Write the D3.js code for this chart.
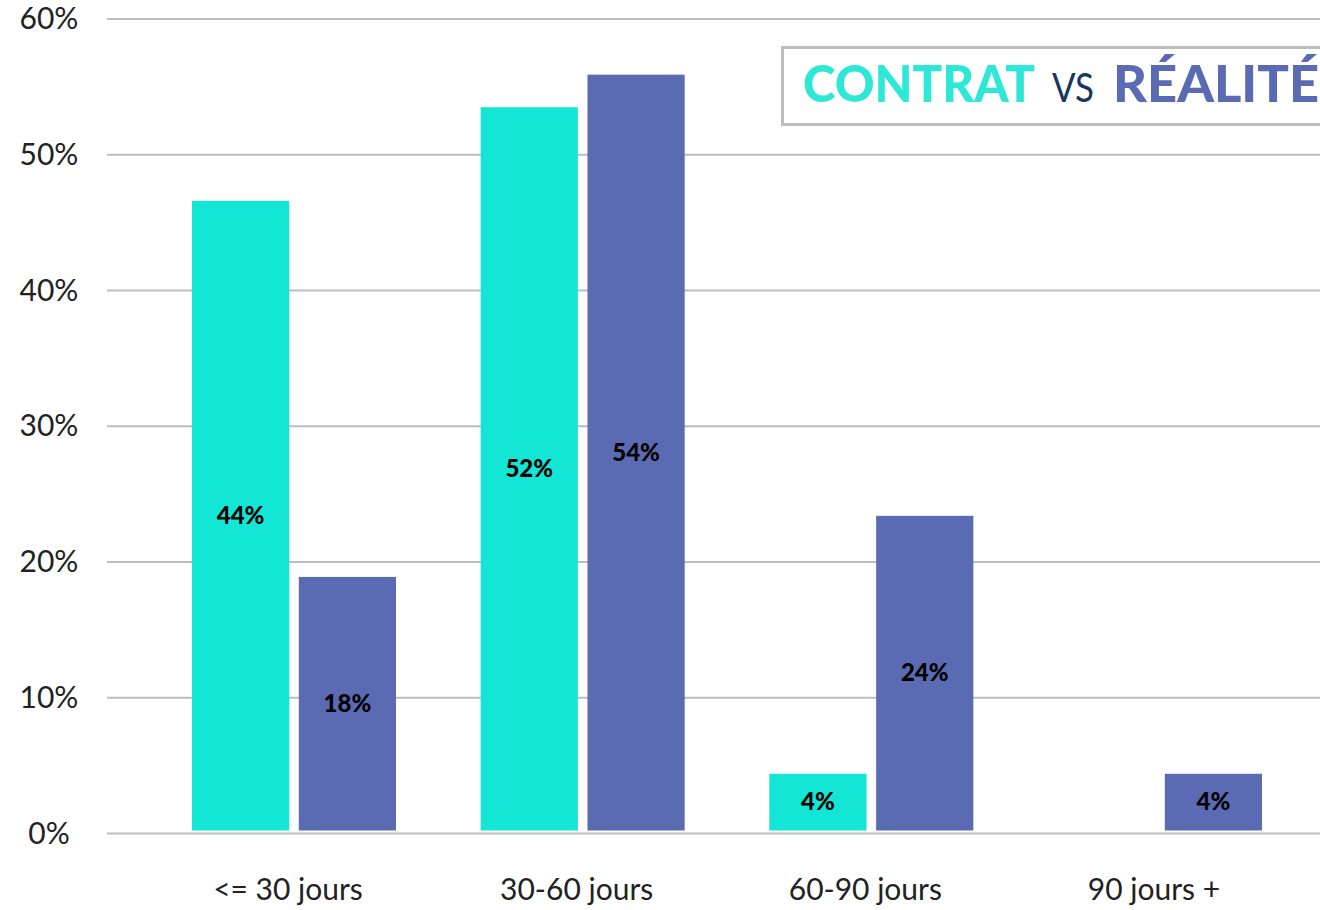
<!DOCTYPE html>
<html>
<head>
<meta charset="utf-8">
<script src="https://cdn.jsdelivr.net/npm/d3@7"></script>
<style>
  html, body { margin: 0; padding: 0; background: #ffffff; }
  svg { display: block; }
</style>
</head>
<body>
<svg id="chart" width="1320" height="910"></svg>
<script>
// ---- data ----
const categories = ["<= 30 jours", "30-60 jours", "60-90 jours", "90 jours +"];
const seriesNames = ["CONTRAT", "RÉALITÉ"];
const contratValues = [46.6, 53.5, 4.4, null];
const realiteValues = [18.9, 55.9, 23.4, 4.4];
const contratLabels = ["44%", "52%", "4%", ""];
const realiteLabels = ["18%", "54%", "24%", "4%"];
const yTicks = [0, 10, 20, 30, 40, 50, 60];

// ---- styles ----
const colors = { "CONTRAT": "#13E6D5", "RÉALITÉ": "#5A6BB4" };
const svg = d3.select("#chart");

const y = d3.scaleLinear().domain([0, 60]).range([833.5, 19]);
const x0 = d3.scalePoint().domain(categories).range([294, 1160]);
const x1 = d3.scaleBand().domain(seriesNames).range([-102, 102]).paddingInner(0.09);

// gridlines
svg.append("g").selectAll("line").data(yTicks).join("line")
  .attr("x1", 107).attr("x2", 1320)
  .attr("y1", d => y(d)).attr("y2", d => y(d))
  .attr("stroke", "#bdbdbd").attr("stroke-width", 2);

// y tick labels
svg.append("g").selectAll("text").data(yTicks).join("text")
  .attr("x", 49).attr("y", d => y(d) + 10)
  .attr("text-anchor", "middle")
  .attr("font-family", "Lato, 'Open Sans', sans-serif")
  .attr("font-size", 30)
  .attr("fill", "#222")
  .text(d => d + "%");

// rows
const rows = categories.map((c, i) => ({
  cat: c,
  items: [
    { s: "CONTRAT", v: contratValues[i], label: contratLabels[i] },
    { s: "RÉALITÉ", v: realiteValues[i], label: realiteLabels[i] }
  ].filter(d => d.v != null)
}));

const groups = svg.append("g").selectAll("g").data(rows).join("g")
  .attr("transform", d => `translate(${x0(d.cat)},0)`);

groups.selectAll("rect").data(d => d.items).join("rect")
  .attr("x", d => x1(d.s))
  .attr("width", x1.bandwidth())
  .attr("y", d => y(d.v))
  .attr("height", d => y(0) - 3 - y(d.v))
  .attr("fill", d => colors[d.s]);

groups.selectAll("text").data(d => d.items).join("text")
  .attr("x", d => x1(d.s) + x1.bandwidth() / 2)
  .attr("y", d => (y(d.v) + y(0) - 3) / 2 + 8)
  .attr("text-anchor", "middle")
  .attr("font-family", "Lato, sans-serif")
  .attr("font-weight", 900)
  .attr("font-size", 24)
  .attr("fill", "#000")
  .text(d => d.label);

// category labels
svg.append("g").selectAll("text").data(categories).join("text")
  .attr("x", d => x0(d) - 6)
  .attr("y", 900)
  .attr("text-anchor", "middle")
  .attr("font-family", "Lato, 'Open Sans', sans-serif")
  .attr("font-size", 30)
  .attr("fill", "#222")
  .text(d => d);

// title box
svg.append("rect")
  .attr("x", 782.5).attr("y", 47.5)
  .attr("width", 560).attr("height", 77)
  .attr("fill", "#fff")
  .attr("stroke", "#bdbdbd").attr("stroke-width", 3);

svg.append("text").attr("x", 803).attr("y", 102)
  .attr("font-family", "Lato, sans-serif").attr("font-weight", 900)
  .attr("font-size", 52).attr("fill", "#2EE8D7")
  .attr("textLength", 232).attr("lengthAdjust", "spacingAndGlyphs")
  .text("CONTRAT");
svg.append("text").attr("x", 1052).attr("y", 102)
  .attr("font-family", "Lato, sans-serif").attr("font-weight", 400)
  .attr("font-size", 40).attr("fill", "#17375E")
  .attr("textLength", 42).attr("lengthAdjust", "spacingAndGlyphs")
  .text("VS");
svg.append("text").attr("x", 1113).attr("y", 102)
  .attr("font-family", "Lato, sans-serif").attr("font-weight", 900)
  .attr("font-size", 52).attr("fill", "#5A6BB4")
  .attr("textLength", 206).attr("lengthAdjust", "spacingAndGlyphs")
  .text("RÉALITÉ");
</script>
</body>
</html>
